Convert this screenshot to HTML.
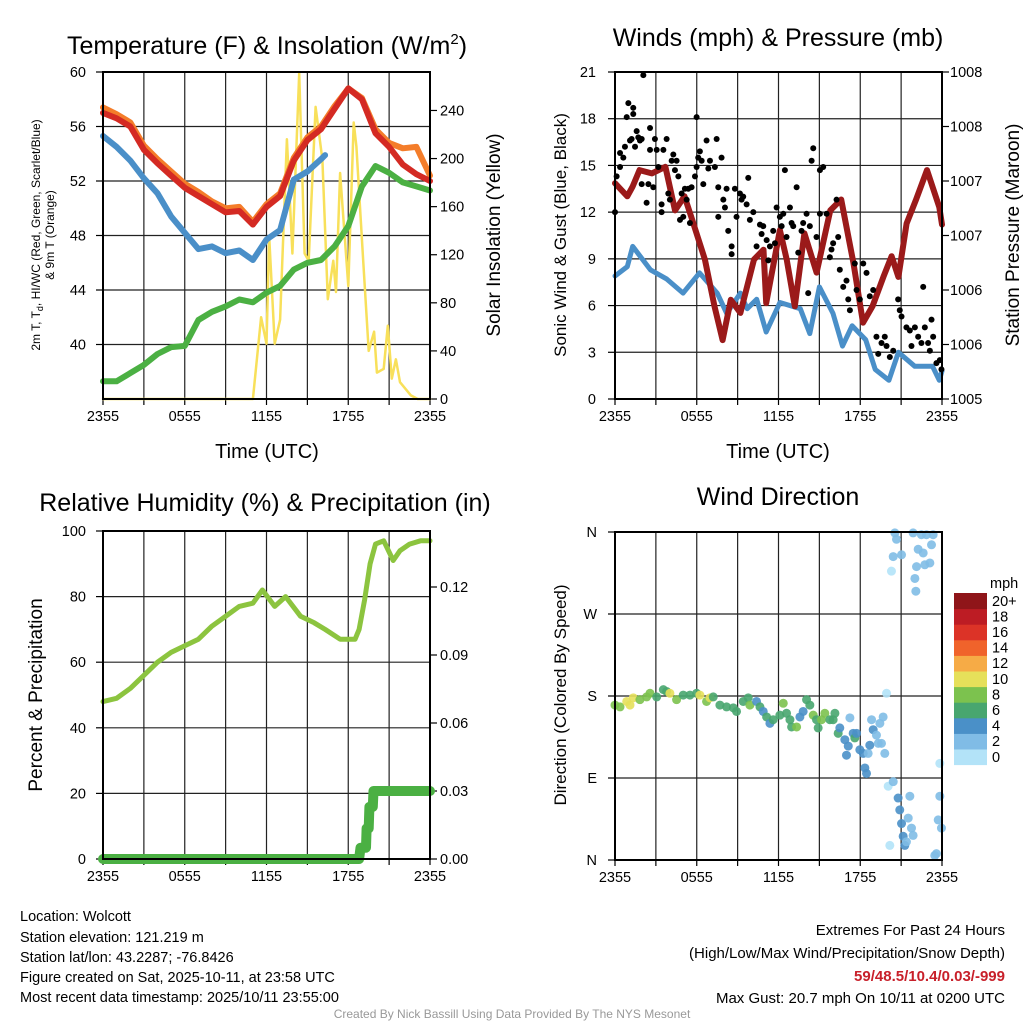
<!DOCTYPE html>
<html><head><meta charset="utf-8"><style>
html,body{margin:0;padding:0;background:#fff;}
svg{display:block;font-family:"Liberation Sans",Arial,sans-serif;}
</style></head><body>
<svg id="c" width="1024" height="1024" viewBox="0 0 1024 1024" xmlns="http://www.w3.org/2000/svg">
<text x="267" y="54" font-size="25" text-anchor="middle">Temperature (F) &amp; Insolation (W/m<tspan dy="-10" font-size="15">2</tspan><tspan dy="10">)</tspan></text>
<text x="778" y="46" font-size="25" text-anchor="middle">Winds (mph) &amp; Pressure (mb)</text>
<text x="265" y="511" font-size="25" text-anchor="middle">Relative Humidity (%) &amp; Precipitation (in)</text>
<text x="778" y="505" font-size="25" text-anchor="middle">Wind Direction</text>

<text transform="translate(40,235) rotate(-90)" font-size="12" text-anchor="middle">2m T, T<tspan dy="3" font-size="9">d</tspan><tspan dy="-3">, HI/WC (Red, Green, Scarlet/Blue)</tspan></text>
<text transform="translate(54,235) rotate(-90)" font-size="12" text-anchor="middle">&amp; 9m T (Orange)</text>
<text transform="translate(500,235) rotate(-90)" font-size="19" text-anchor="middle">Solar Insolation (Yellow)</text>
<text x="267" y="458" font-size="20" text-anchor="middle">Time (UTC)</text>
<text transform="translate(566,235) rotate(-90)" font-size="17" text-anchor="middle">Sonic Wind &amp; Gust (Blue, Black)</text>
<text transform="translate(1019,235) rotate(-90)" font-size="19" text-anchor="middle">Station Pressure (Maroon)</text>
<text x="778" y="458" font-size="20" text-anchor="middle">Time (UTC)</text>
<text transform="translate(42,695) rotate(-90)" font-size="19" text-anchor="middle">Percent &amp; Precipitation</text>
<text transform="translate(566,695) rotate(-90)" font-size="17" text-anchor="middle">Direction (Colored By Speed)</text>

<g font-size="14.5">
<text x="20" y="921">Location: Wolcott</text>
<text x="20" y="942">Station elevation: 121.219 m</text>
<text x="20" y="962">Station lat/lon: 43.2287; -76.8426</text>
<text x="20" y="982">Figure created on Sat, 2025-10-11, at 23:58 UTC</text>
<text x="20" y="1002">Most recent data timestamp: 2025/10/11 23:55:00</text>
</g>
<g font-size="15" text-anchor="end">
<text x="1005" y="935">Extremes For Past 24 Hours</text>
<text x="1005" y="958">(High/Low/Max Wind/Precipitation/Snow Depth)</text>
<text x="1005" y="981" fill="#c8202a" font-weight="bold">59/48.5/10.4/0.03/-999</text>
<text x="1005" y="1003">Max Gust: 20.7 mph On 10/11 at 0200 UTC</text>
</g>
<text x="512" y="1018" font-size="12" fill="#999" text-anchor="middle">Created By Nick Bassill Using Data Provided By The NYS Mesonet</text>
</svg>
<script>
// ---------- data ----------
const hours = [0,1,2,3,4,5,6,7,8,9,10,11,12,13,14,15,16,17,18,19,20,21,22,23,24];
const tempRed = [57.0,56.6,56.0,54.3,53.3,52.4,51.5,50.9,50.3,49.7,49.8,48.8,50.1,50.9,53.5,55.0,55.8,57.3,58.8,58.0,55.5,54.5,53.2,52.5,52.0];
const tempOrange = [57.4,56.9,56.3,54.6,53.6,52.7,51.8,51.2,50.5,50.0,50.1,49.0,50.3,51.1,53.7,55.2,56.0,57.5,58.8,58.1,55.8,54.8,54.4,54.5,52.4];
const dewGreen = [37.3,37.3,37.9,38.5,39.3,39.8,39.9,41.8,42.4,42.8,43.3,43.1,43.8,44.3,45.5,46.0,46.2,47.2,48.7,51.6,53.1,52.6,51.9,51.6,51.3];
const hiBlueHours = [0,1,2,3,4,5,6,7,8,9,10,11,12,13,14,15,16,16.3];
const hiBlue = [55.3,54.5,53.5,52.2,51.1,49.4,48.2,47.0,47.2,46.7,46.9,46.2,47.7,48.4,52.1,52.7,53.6,53.9];
const solarHours = [0,11.0,11.6,12.0,12.2,12.6,13.0,13.5,13.9,14.4,14.8,15.1,15.6,16.1,16.5,16.9,17.1,17.4,18.0,18.4,18.6,19.1,19.5,19.9,20.1,20.6,20.9,21.2,21.5,21.8,22.6,23.1,24];
const solar = [0,0,68,46,135,46,66,216,121,271,121,115,243,199,83,115,89,188,94,230,210,115,40,56,22,25,61,17,33,14,3,0,0];
const windHours = [0,0.9,1.3,2.6,3.8,5.0,6.2,7.5,8.2,9.2,9.7,10.4,11.1,12.1,13.6,14.3,15.0,16.0,16.3,16.7,17.4,18.4,19.1,20.1,20.8,22.0,23.3,23.8,24];
const windSpeed = [7.9,8.5,9.8,8.3,7.7,6.8,8.1,6.8,5.5,6.8,5.8,6.4,4.3,6.2,5.8,4.2,7.2,5.5,4.6,3.4,4.7,3.8,1.9,1.2,3.0,2.1,2.1,1.2,1.8];
const presHours = [0,0.9,1.3,1.8,2.7,3.7,4.4,5.1,5.6,6.6,7.3,7.9,8.5,9.2,10.2,10.9,11.1,12.1,12.6,13.2,13.9,14.8,15.8,16.6,17.5,18.2,18.9,19.7,20.3,20.8,21.4,22.1,22.9,23.8,24];
const pressure = [1006.98,1006.86,1006.95,1007.10,1007.07,1007.13,1006.73,1006.86,1006.67,1006.28,1005.85,1005.54,1005.91,1005.79,1006.28,1006.37,1005.88,1006.55,1006.28,1005.85,1006.52,1006.16,1006.73,1006.83,1006.25,1005.70,1005.85,1006.12,1006.31,1006.12,1006.61,1006.83,1007.10,1006.76,1006.60];
const gustHours = [0.0,0.12,0.37,0.37,0.61,0.73,0.86,0.98,1.1,1.22,1.34,1.34,1.47,1.59,1.71,1.83,1.96,1.96,2.08,2.32,2.45,2.57,2.57,2.81,2.93,3.06,3.18,3.42,3.42,3.55,3.79,3.91,4.03,4.16,4.28,4.4,4.52,4.65,4.77,4.89,5.01,5.13,5.26,5.38,5.5,5.62,5.87,5.99,5.99,6.11,6.23,6.36,6.48,6.72,6.85,6.97,7.33,7.46,7.58,7.58,7.82,7.95,8.07,8.19,8.31,8.56,8.56,8.8,8.92,9.17,9.29,9.41,9.66,9.78,9.9,10.15,10.39,10.64,10.76,10.88,11.13,11.25,11.37,11.61,11.74,11.86,12.1,12.23,12.35,12.47,12.59,12.84,12.96,13.08,13.33,13.45,13.69,13.81,14.06,14.18,14.3,14.43,14.55,14.79,15.04,15.04,15.28,15.53,15.77,15.89,16.01,16.26,16.38,16.5,16.75,16.99,17.12,17.24,17.6,17.73,17.97,18.22,18.46,18.7,18.95,19.19,19.32,19.56,19.8,19.93,20.17,20.42,20.78,20.9,21.03,21.39,21.64,21.76,22.01,22.25,22.49,22.62,22.74,22.98,23.11,23.23,23.35,23.59,23.84,23.96];
const gustSpeed = [12.0,14.3,14.9,15.8,15.5,16.2,18.1,19.0,16.6,16.7,18.3,18.7,16.2,17.2,16.8,16.6,16.7,13.8,20.8,12.6,13.8,17.4,16.0,13.6,16.7,16.0,14.9,12.5,12.0,16.0,16.7,13.2,12.8,15.3,15.7,14.7,15.3,14.3,11.5,13.2,11.7,13.5,12.8,13.5,11.3,13.6,14.3,18.1,14.9,15.5,15.9,15.3,13.8,16.6,14.8,15.3,14.9,16.7,13.6,11.7,15.5,12.8,12.3,13.5,10.8,9.8,9.3,13.5,11.7,13.2,12.8,13.0,12.5,14.2,11.5,12.0,9.8,11.2,10.6,11.1,10.2,8.9,9.8,10.8,10.0,12.3,11.7,11.1,11.9,14.7,10.4,12.3,11.3,11.1,13.6,9.4,10.8,11.3,11.9,6.8,11.1,15.3,16.1,10.4,11.9,14.7,14.9,11.9,9.1,9.6,10.0,12.8,10.4,8.3,7.2,7.6,6.4,5.7,8.7,7.0,6.4,8.7,8.1,6.6,7.0,4.0,2.9,3.6,4.0,3.4,2.7,3.1,6.4,5.7,5.3,4.6,4.4,3.4,4.6,4.0,3.6,7.2,4.6,3.6,3.1,5.1,4.0,2.3,2.5,1.9];
const rhHours = [0,1,2,3,4,5,6,7,8,9,10,11,11.7,12.6,13.4,14.5,15.5,16.3,17.4,18.5,18.8,19.2,19.6,20.0,20.6,21.3,21.8,22.5,23.3,24];
const rh = [48,49,52,56,60,63,65,67,71,74,77,78,82,77,80,74,72,70,67,67,70,79,90,96,97,91,94,96,97,97];
const precipHours = [0,18.8,18.9,19.3,19.35,19.5,19.55,19.8,19.85,24];
const precip = [0,0,0.005,0.005,0.0135,0.0135,0.023,0.023,0.03,0.03];
const dirHours = [0.0,0.37,0.86,1.1,1.34,1.83,2.32,2.57,3.06,3.55,3.79,4.03,4.52,5.01,5.5,5.99,6.23,6.72,6.97,7.21,7.7,8.19,8.68,8.92,9.41,9.78,9.9,10.39,10.64,10.88,11.13,11.37,11.61,12.1,12.35,12.59,12.84,12.96,13.33,13.57,13.81,14.06,14.3,14.55,14.79,14.91,15.16,15.4,15.77,16.01,16.14,16.38,16.5,16.87,17.12,16.99,17.24,17.48,17.6,17.73,17.97,18.22,18.34,18.46,18.58,18.7,18.83,18.95,19.19,19.32,19.44,19.56,19.68,19.8,19.93,20.05,20.17,20.29,20.42,20.42,20.54,20.66,20.78,20.9,21.03,21.03,21.15,21.27,21.39,21.52,21.64,21.76,21.88,21.88,22.01,22.08,22.13,22.25,22.49,22.62,22.74,22.86,23.11,23.23,23.35,23.47,23.59,23.72,23.84,23.84,23.96];
const dirDeg = [170,168,174,170,178,176,179,183,179,187,185,183,176,181,181,183,181,174,178,179,170,168,167,163,174,178,170,174,168,163,157,150,154,159,172,161,154,146,146,157,163,176,170,159,154,145,154,161,154,154,161,139,145,132,125,115,156,139,134,139,121,117,101,95,117,126,154,143,137,128,150,128,157,117,183,81,16,317,86,333,359,352,68,55,40,335,26,16,20,46,70,35,27,359,309,295,322,341,357,337,324,357,326,346,357,5,7,44,70,106,35];
const dirSpeed = [8,8,10,10,10,8,8,8,7,6,7,10,8,7,6,6,10,8,10,7,6,6,6,6,6,6,8,4,6,4,6,4,6,6,8,6,6,6,8,4,4,6,6,8,6,6,8,8,6,6,6,6,4,4,4,4,3,4,6,4,4,4,4,5,3,4,3,5,3,2,3,3,3,3,1,1,1,1,2,3,2,3,4,5,4,3,4,4,3,3,3,3,3,3,3,3,3,3,3,3,3,3,3,3,3,3,2,2,2,1,2];
const speedBins = ["0","2","4","6","8","10","12","14","16","18","20+"];
const binColors = ["#b3e3f8","#80bce6","#4a90c8","#48a66f","#7cc24e","#e6e05a","#f6ab46","#f0632b","#dc3327","#bd1c24","#8f1519"];
const timeLabels = ["2355","0555","1155","1755","2355"];

// ---------- helpers ----------
const NS="http://www.w3.org/2000/svg";
const svg=document.getElementById('c');
function mk(tag,attrs,parent){const e=document.createElementNS(NS,tag);for(const k in attrs)e.setAttribute(k,attrs[k]);(parent||svg).appendChild(e);return e;}
function linScale(d0,d1,r0,r1){return v=>r0+(v-d0)/(d1-d0)*(r1-r0);}
function linePath(xs,ys,fx,fy){return xs.map((h,i)=>(i?'L':'M')+fx(h).toFixed(1)+','+fy(ys[i]).toFixed(1)).join('');}

function frame(x0,y0,x1,y1,name){
  const g=mk('g',{});
  
  
  return g;
}
function timeAxis(g,x0,x1,y0,y1,name){
  const fx=linScale(0,24,x0,x1);
  for(let h=3;h<24;h+=3){mk('line',{x1:fx(h),x2:fx(h),y1:y0,y2:y1,stroke:'#222','stroke-width':1.2},g);}
  for(let h=0;h<=24;h+=3){mk('line',{x1:fx(h),x2:fx(h),y1:y1,y2:y1+6,stroke:'#000','stroke-width':1.2},g);}
  timeLabels.forEach((t,i)=>{
    const tx=mk('text',{x:fx(i*6),y:y1+22,'font-size':14.5,'text-anchor':'middle'},g);
    
    
    tx.textContent=t;
  });
  return fx;
}
function hGrid(g,x0,x1,ys){ys.forEach(y=>mk('line',{x1:x0,x2:x1,y1:y,y2:y,stroke:'#222','stroke-width':1.2},g));}
function yLabels(g,vals,fy,x,anchor,name,fmt,tickX,tickDir){
  vals.forEach(v=>{
    const t=mk('text',{x:x,y:fy(v)+5,'font-size':14.5,'text-anchor':anchor},g);
    
    
    t.textContent=fmt(v);
    mk('line',{x1:tickX,x2:tickX+tickDir*7,y1:fy(v),y2:fy(v),stroke:'#000','stroke-width':1.2},g);
  });
}
function border(g,x0,y0,x1,y1){mk('rect',{x:x0,y:y0,width:x1-x0,height:y1-y0,fill:'none',stroke:'#000','stroke-width':2},g);}
function series(d,color,w,name,extra){
  const p=mk('path',Object.assign({d:d,fill:'none',stroke:color,'stroke-width':w,'stroke-linejoin':'round','stroke-linecap':'round'},extra||{}));
  
  
  return p;
}

// ---------- panel 1: temperature ----------
{
 const X0=103,X1=430,Y0=72,Y1=399;
 const g=frame(X0,Y0,X1,Y1,'temperature');
 const fy=linScale(36,60,Y1,Y0);
 const fs=linScale(0,272,Y1,Y0);
 const fx=timeAxis(g,X0,X1,Y0,Y1,'temperature');
 hGrid(g,X0,X1,[40,44,48,52,56].map(fy));
 yLabels(g,[40,44,48,52,56,60],fy,86,'end','temperature-y-tick-label',v=>v,X0,-1);
 yLabels(g,[0,40,80,120,160,200,240],fs,440,'start','solar-y-tick-label',v=>v,X1,1);
 series(linePath(solarHours,solar,fx,fs),'#f8e05a',2.5,'solar-insolation-line');
 series(linePath(dewGreen.map((v,i)=>hours[i]),dewGreen,fx,fy),'#4bb043',6,'dewpoint-green-line');
 series(linePath(hiBlueHours,hiBlue,fx,fy),'#4a8fc8',6,'heat-index-blue-line');
 series(linePath(hours,tempOrange,fx,fy),'#f47d2a',6,'temperature-9m-orange-line');
 series(linePath(hours,tempRed,fx,fy),'#d42a23',6,'temperature-2m-red-line');
 border(svg,X0,Y0,X1,Y1);
}
// ---------- panel 2: winds ----------
{
 const X0=615,X1=942,Y0=72,Y1=399;
 const g=frame(X0,Y0,X1,Y1,'winds');
 const fy=linScale(0,21,Y1,Y0);
 const fp=linScale(1005,1008,Y1,Y0);
 const fx=timeAxis(g,X0,X1,Y0,Y1,'winds');
 hGrid(g,X0,X1,[3,6,9,12,15,18].map(fy));
 yLabels(g,[0,3,6,9,12,15,18,21],fy,596,'end','wind-y-tick-label',v=>v,X0,-1);
 yLabels(g,[1005,1005.5,1006,1006.5,1007,1007.5,1008],fp,950,'start','pressure-y-tick-label',v=>Math.round(v),X1,1);
 series(linePath(windHours,windSpeed,fx,fy),'#4a8fc8',5,'sonic-wind-line');
 series(linePath(presHours,pressure,fx,fp),'#9b1a1a',6,'pressure-line');
 gustHours.forEach((h,i)=>{
   const c=mk('circle',{cx:fx(h),cy:fy(gustSpeed[i]),r:3,fill:'#000'});
   
   
 });
 border(svg,X0,Y0,X1,Y1);
}
// ---------- panel 3: humidity ----------
{
 const X0=103,X1=430,Y0=531,Y1=859;
 const g=frame(X0,Y0,X1,Y1,'humidity');
 const fy=linScale(0,100,Y1,Y0);
 const fp=linScale(0,0.03,Y1,791);
 const fx=timeAxis(g,X0,X1,Y0,Y1,'humidity');
 hGrid(g,X0,X1,[20,40,60,80].map(fy));
 yLabels(g,[0,20,40,60,80,100],fy,86,'end','humidity-y-tick-label',v=>v,X0,-1);
 yLabels(g,[0,0.03,0.06,0.09,0.12],fp,440,'start','precip-y-tick-label',v=>v.toFixed(2),X1,1);
 series(linePath(rhHours,rh,fx,fy),'#8cc43f',5,'relative-humidity-line');
 series(linePath(precipHours,precip,fx,fp),'#4bb043',10,'precipitation-line');
 border(svg,X0,Y0,X1,Y1);
}
// ---------- panel 4: wind direction ----------
{
 const X0=615,X1=942,Y0=532,Y1=860;
 const g=frame(X0,Y0,X1,Y1,'direction');
 const fy=linScale(0,360,Y1,Y0);
 const fx=timeAxis(g,X0,X1,Y0,Y1,'direction');
 hGrid(g,X0,X1,[90,180,270].map(fy));
 const names=['N','E','S','W','N'];
 yLabels(g,[0,90,180,270,360],fy,597,'end','direction-y-tick-label',v=>names[v/90],X0,-1);
 dirHours.forEach((h,i)=>{
   const b=Math.min(10,Math.floor(dirSpeed[i]/2));
   const c=mk('circle',{cx:fx(h),cy:fy(dirDeg[i]),r:4.5,fill:binColors[b],'fill-opacity':0.9});
   
   
 });
 border(svg,X0,Y0,X1,Y1);
 const lg=mk('g',{});
 
 
 const t=mk('text',{x:990,y:588,'font-size':14.5},lg);t.textContent='mph';
 const BY0=593,BH=15.6;
 speedBins.forEach((lab,i)=>{
   const y=BY0+(10-i)*BH;
   const r=mk('rect',{x:954,y:y,width:33,height:BH+0.5,fill:binColors[i]},lg);
   
   
   const tx=mk('text',{x:992,y:y+BH/2+5,'font-size':14.5},lg);
   
   
   tx.textContent=lab;
 });
}
</script>
</body></html>
